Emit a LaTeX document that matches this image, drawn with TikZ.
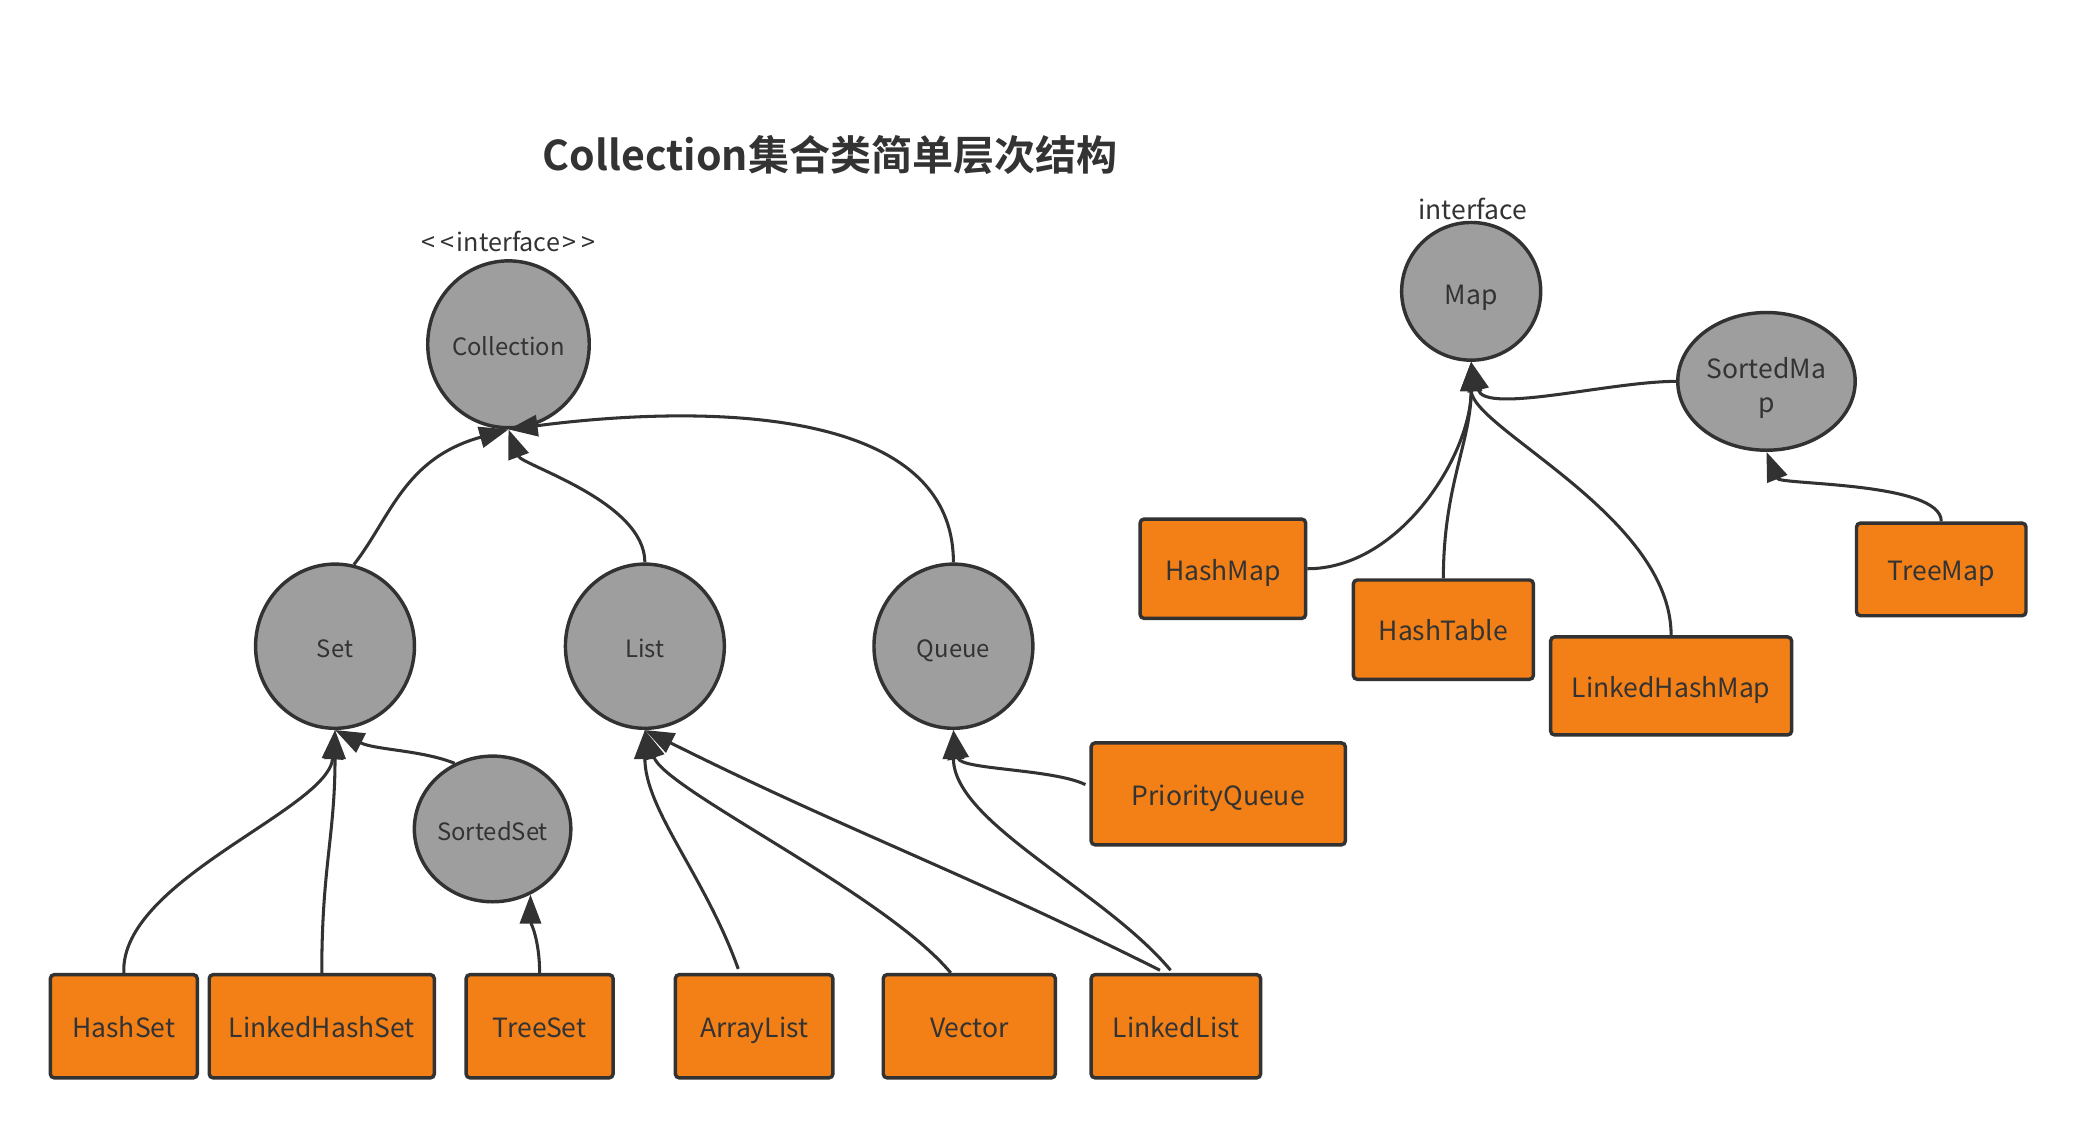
\documentclass[tikz,border=0pt]{standalone}
\usepackage{fontspec}
\setmainfont{Noto Sans CJK SC}[BoldFont={Noto Sans CJK SC Bold}]
\usetikzlibrary{shapes.geometric,arrows.meta,calc}
\definecolor{ink}{HTML}{333333}
\definecolor{bord}{HTML}{323232}
\definecolor{grayfill}{HTML}{9E9E9E}
\definecolor{orng}{HTML}{F38017}
\begin{document}
\begin{tikzpicture}[x=1pt,y=-1pt,
  ell/.style={ellipse,draw=bord,line width=2.6pt,fill=grayfill,inner sep=0pt,text=ink,font=\fontsize{18}{22}\selectfont,text height=17pt,text depth=0pt},
  mell/.style={ell,font=\fontsize{20}{26}\selectfont,text height=20pt},
  box/.style={rectangle,rounded corners=3pt,draw=bord,line width=2.6pt,fill=orng,inner sep=0pt,text=ink,font=\fontsize{20}{24}\selectfont,text height=17pt,text depth=0pt},
  conn/.style={draw=bord,line width=2.3pt,-{Triangle[length=22pt,width=16pt]}},
  lbl/.style={text=ink,inner sep=0pt,font=\fontsize{19}{23}\selectfont}]
\path[use as bounding box,fill=white] (0,0) rectangle (1567,852);

\node[text=ink,font=\bfseries\fontsize{31}{36}\selectfont] (title) at (627,117) {Collection集合类简单层次结构};
\node[lbl] (iface1) at (384,182) {<\kern4pt<\kern2pt interface\kern2pt>\kern4pt>};
\node[lbl,font=\fontsize{20}{24}\selectfont] (iface2) at (1112,158) {interface};

\node[ell,minimum width=122pt,minimum height=126pt] (coll) at (384,260) {Collection};
\node[ell,minimum width=120pt,minimum height=124pt] (set) at (253,488) {Set};
\node[ell,minimum width=120pt,minimum height=124pt] (list) at (487,488) {List};
\node[ell,minimum width=120pt,minimum height=124pt] (queue) at (720,488) {Queue};
\node[ell,minimum width=116pt,minimum height=110pt] (sset) at (372,626) {SortedSet};

\node[box,minimum width=111pt,minimum height=78pt] (hashset) at (93.5,775) {HashSet};
\node[box,minimum width=170pt,minimum height=78pt] (lhs) at (243,775) {LinkedHashSet};
\node[box,minimum width=111pt,minimum height=78pt] (treeset) at (407.5,775) {TreeSet};
\node[box,minimum width=119pt,minimum height=78pt] (al) at (569.5,775) {ArrayList};
\node[box,minimum width=130pt,minimum height=78pt] (vec) at (732,775) {Vector};
\node[box,minimum width=128pt,minimum height=78pt] (ll) at (888,775) {LinkedList};
\node[box,minimum width=192pt,minimum height=77pt] (pq) at (920,599.5) {PriorityQueue};

\node[mell,minimum width=105pt,minimum height=104pt] (map) at (1111,220) {Map};
\node[mell,minimum width=134pt,minimum height=104pt] (smap) at (1334,288) {};
\node[text=ink,inner sep=0pt,align=center,font=\fontsize{20}{26}\selectfont] (smaptxt) at ($(smap.center)+(0,5)$) {SortedMa\\p};
\node[box,minimum width=125pt,minimum height=75pt] (hm) at (923.5,429.5) {HashMap};
\node[box,minimum width=136pt,minimum height=75pt] (ht) at (1090,475.5) {HashTable};
\node[box,minimum width=182pt,minimum height=74pt] (lhm) at (1262,518) {LinkedHashMap};
\node[box,minimum width=128pt,minimum height=70pt] (tm) at (1466,430) {TreeMap};

% Collection hierarchy
\draw[conn] (set.77) .. controls +(28,-36) and +(-79,22) .. (coll.south);
\draw[conn] (list.north) .. controls +(0,-46) and +(10,27) .. (coll.south);
\draw[conn] (queue.north) .. controls +(0,-124) and +(130,-17) .. (coll.south);

\draw[conn] (hashset.north) .. controls +(-3,-70) and +(-5,60) .. (set.south);
\draw[conn] (lhs.north) .. controls +(0,-80) and +(0,80) .. (set.south);
\draw[conn] (sset.120) .. controls +(-25,-10) and +(30,15) .. (set.south);
\draw[conn] (treeset.north) .. controls +(0,-25) and +(0,20) .. (sset.-60);

\draw[conn] ($(al.north)+(-12,-3)$) .. controls +(-25,-70) and +(0,60) .. (list.south);
\draw[conn] ($(vec.north)+(-14,0)$) .. controls +(-50,-60) and +(15,45) .. (list.south);
\draw[conn] ($(ll.north)+(-12,-2)$) .. controls +(-150,-75) and +(150,75) .. (list.south);
\draw[conn] ($(ll.north)+(-4,-2)$) .. controls +(-50,-60) and +(0,70) .. (queue.south);
\draw[conn] ($(pq.west)+(-3,-7)$) .. controls +(-25,-12) and +(5,30) .. (queue.south);

% Map hierarchy
\draw[conn] (hm.east) .. controls +(70,0) and +(0,70) .. (map.south);
\draw[conn] (ht.north) .. controls +(0,-70) and +(0,60) .. (map.south);
\draw[conn] (lhm.north) .. controls +(0,-90) and +(0,50) .. (map.south);
\draw[conn] (smap.west) .. controls +(-50,0) and +(10,40) .. (map.south);
\draw[conn] (tm.north) .. controls +(0,-30) and +(10,25) .. (smap.south);
\end{tikzpicture}
\end{document}
